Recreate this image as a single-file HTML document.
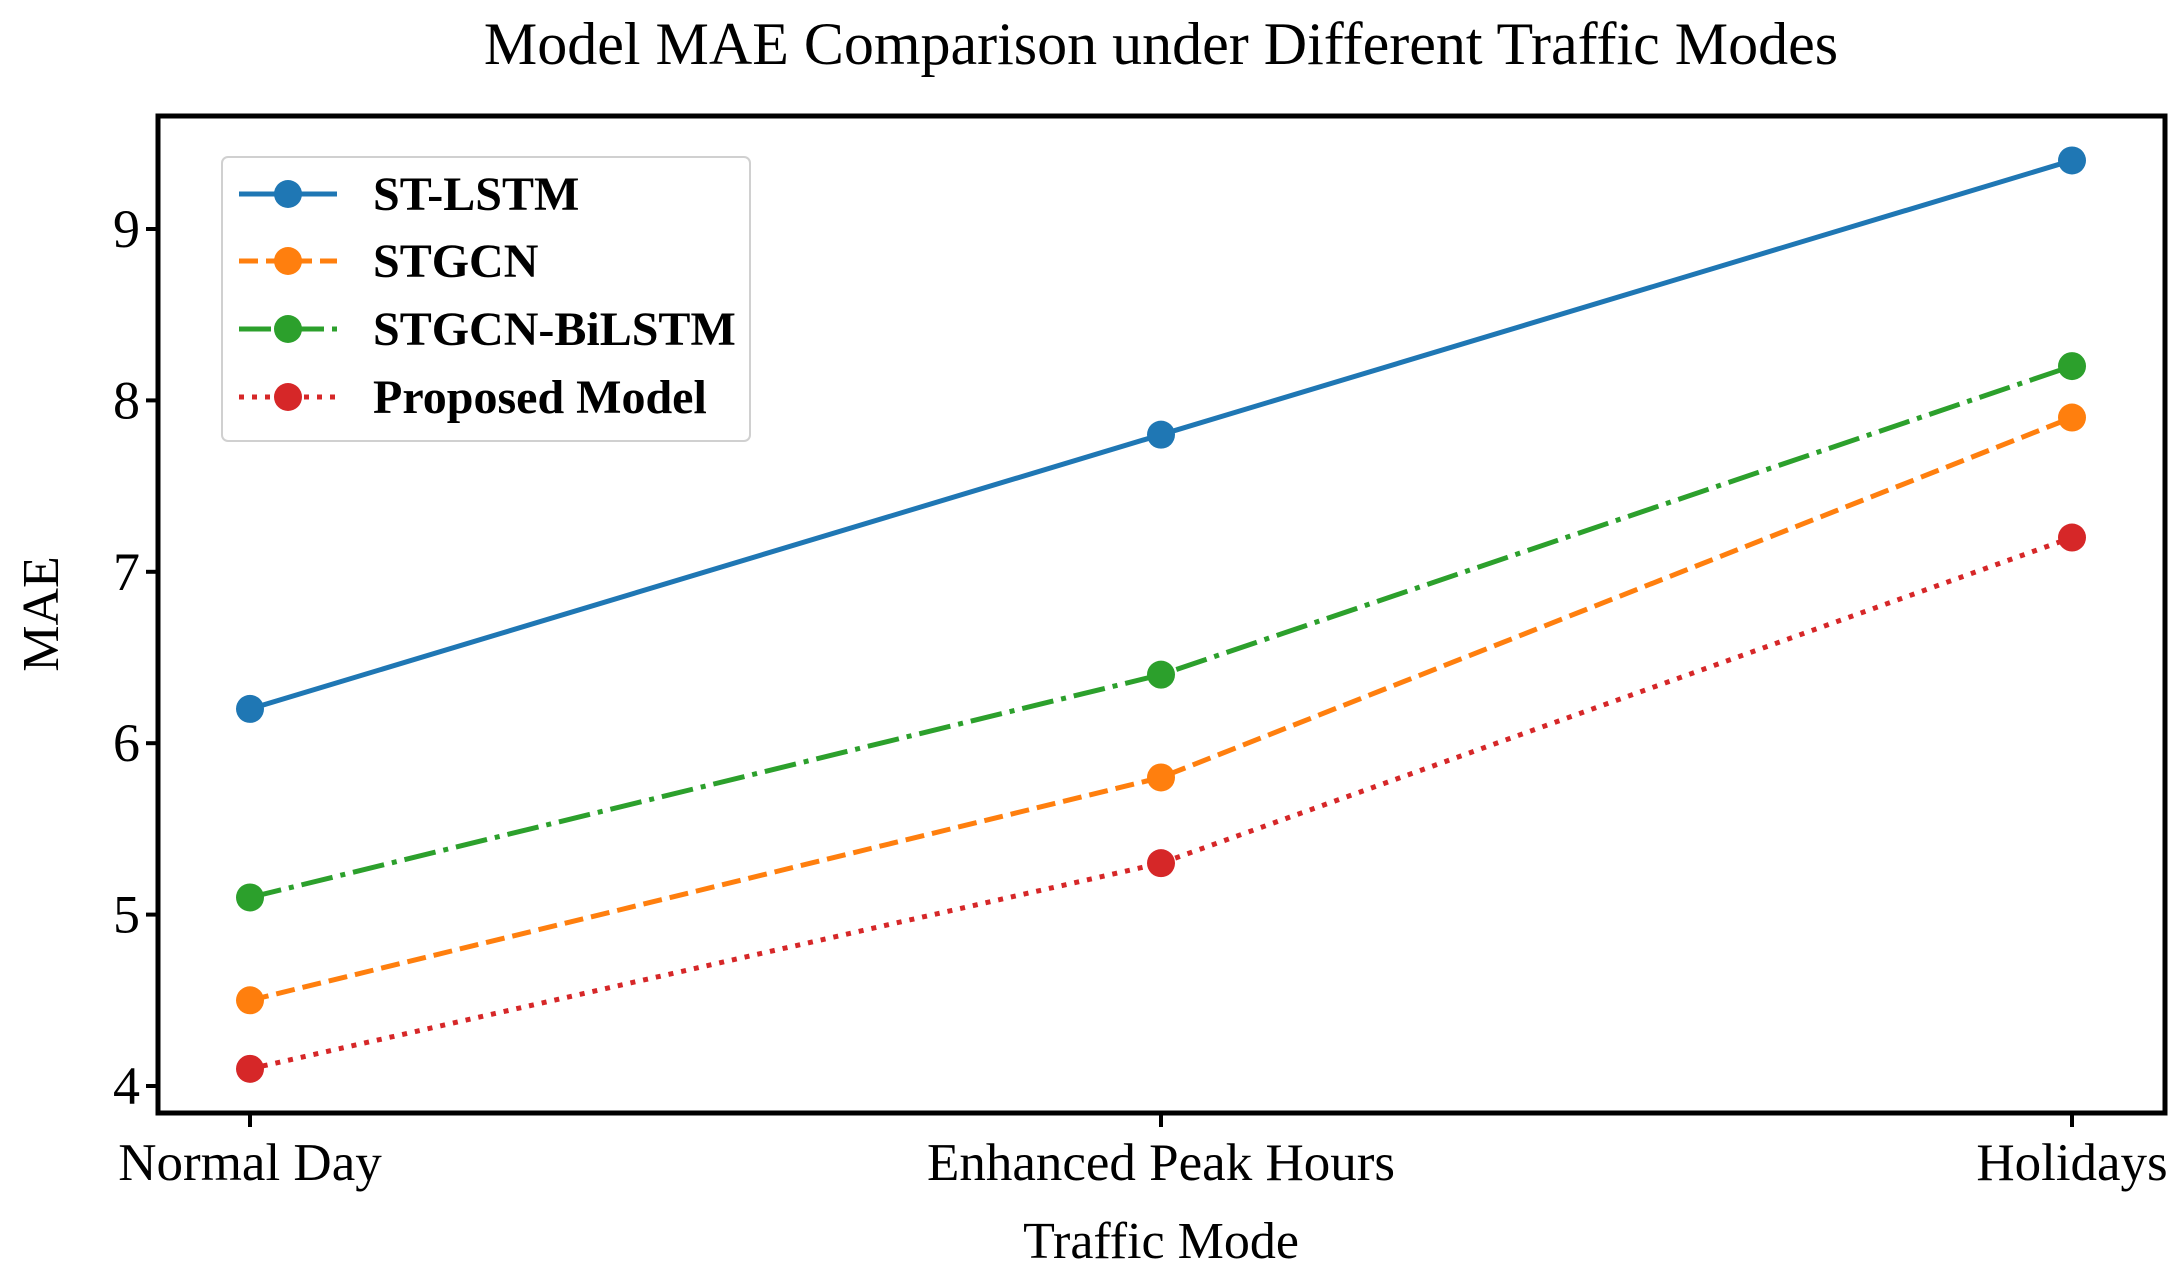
<!DOCTYPE html>
<html><head><meta charset="utf-8"><style>
html,body{margin:0;padding:0;background:#fff;}
svg text{font-family:"Liberation Serif",serif;fill:#000;}
</style></head><body>
<svg id="chart" width="2175" height="1283" viewBox="0 0 2175 1283" xmlns="http://www.w3.org/2000/svg">
<text x="1161" y="64" font-size="60" text-anchor="middle">Model MAE Comparison under Different Traffic Modes</text>
<g id="plot"></g>
<text x="1161" y="1258" font-size="52" text-anchor="middle">Traffic Mode</text>
<text x="0" y="0" font-size="52" text-anchor="middle" transform="translate(58,614) rotate(-90)">MAE</text>
</svg>
<script>
const categories = ["Normal Day","Enhanced Peak Hours","Holidays"];
const seriesNames = ["ST-LSTM","STGCN","STGCN-BiLSTM","Proposed Model"];
const stlstm = [6.2,7.8,9.4];
const stgcn = [4.5,5.8,7.9];
const bilstm = [5.1,6.4,8.2];
const proposed = [4.1,5.3,7.2];
const yTicks = [4,5,6,7,8,9];

const NS="http://www.w3.org/2000/svg";
const L=158,R=2165,T=116,B=1113;
function xs(i){return 250 + i*(2072-250)/(categories.length-1);}
function ys(v){return 1086 - (v-4)*171.4;}
const g=document.getElementById('plot');
function mk(tag,attrs,parent){const e=document.createElementNS(NS,tag);for(const k in attrs)e.setAttribute(k,attrs[k]);(parent||g).appendChild(e);return e;}

const styles=[
 {data:stlstm,color:"#1f77b4",dash:""},
 {data:stgcn,color:"#ff7f0e",dash:"19 8"},
 {data:bilstm,color:"#2ca02c",dash:"32 8 5 8"},
 {data:proposed,color:"#d62728",dash:"5 8"}
];
const slugs=["st-lstm","stgcn","stgcn-bilstm","proposed-model"];

styles.forEach((s,k)=>{
  const grp=mk('g',{});
  
  
  const pts=s.data.map((v,i)=>xs(i)+","+ys(v)).join(" ");
  const pl=mk('polyline',{points:pts,fill:"none",stroke:s.color,"stroke-width":5,"stroke-dasharray":s.dash},grp);
  
  
  s.data.forEach((v,i)=>{
    const c=mk('circle',{cx:xs(i),cy:ys(v),r:14,fill:s.color},grp);
    
    
  });
});

const frame=mk('rect',{x:L,y:T,width:R-L,height:B-T,fill:"none",stroke:"#000","stroke-width":5});



yTicks.forEach(v=>{
  const t=mk('line',{x1:L-12,x2:L,y1:ys(v),y2:ys(v),stroke:"#000","stroke-width":4});
  
  
  const tx=mk('text',{x:L-18,y:ys(v)+18,"font-size":54,"text-anchor":"end"});
  tx.textContent=v;
  
  
});
categories.forEach((c,i)=>{
  const t=mk('line',{x1:xs(i),x2:xs(i),y1:B,y2:B+14,stroke:"#000","stroke-width":4});
  
  
  const tx=mk('text',{x:xs(i),y:1180,"font-size":53,"text-anchor":"middle"});
  tx.textContent=c;
  
  
});

const lg=mk('g',{});


mk('rect',{x:222,y:157,width:528,height:284,rx:6,fill:"#fff","fill-opacity":0.8,stroke:"#d0d0d0","stroke-width":2},lg);
const ly=[194,261,329,397];
styles.forEach((s,k)=>{
  const e=mk('g',{},lg);
  
  
  mk('line',{x1:239,x2:337,y1:ly[k],y2:ly[k],stroke:s.color,"stroke-width":5,"stroke-dasharray":s.dash},e);
  mk('circle',{cx:288,cy:ly[k],r:14,fill:s.color},e);
  const t=mk('text',{x:373,y:ly[k]+16,"font-size":48,"font-weight":"bold"},e);
  t.textContent=seriesNames[k];
});
</script>
</body></html>
